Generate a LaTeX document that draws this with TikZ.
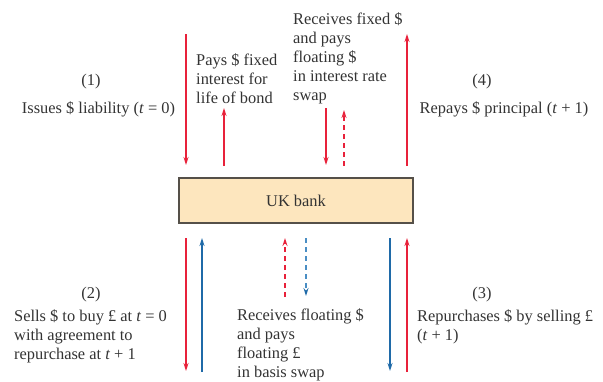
\documentclass[tikz,border=0pt]{standalone}
\usepackage{fontspec}
\setmainfont{Liberation Serif}
\usetikzlibrary{arrows.meta}
\definecolor{myred}{HTML}{E8213A}
\definecolor{myblue}{HTML}{1F6AA8}
\definecolor{mylblue}{HTML}{4A8EC4}
\definecolor{boxfill}{HTML}{FDE6BE}
\definecolor{boxline}{HTML}{555049}
\definecolor{txt}{HTML}{333333}
\begin{document}
\begin{tikzpicture}[x=1pt,y=-1pt,
  flow/.style={line width=1.2pt,-{Stealth[length=8pt,width=5pt]}},
  rflow/.style={flow,myred},
  bflow/.style={flow,myblue},
  dsh/.style={dash pattern=on 5pt off 4pt},
  lbl/.style={text=txt,font=\fontsize{16.4}{19}\selectfont,inner sep=0pt},
  lbll/.style={lbl,align=left,anchor=base west},
  lblc/.style={lbl,align=center,anchor=base}]
\useasboundingbox (0,0) rectangle (603,381);
\node[draw=boxline,line width=1.2pt,fill=boxfill,minimum width=234pt,minimum height=45pt,
  text=txt,font=\fontsize{16.4}{19}\selectfont] (bank) at (296,200.5) {UK bank};
% top arrows
\coordinate (a1s) at (186,34);  \coordinate (a1e) at (186,165);
\coordinate (a2s) at (224,166); \coordinate (a2e) at (224,108);
\coordinate (a3s) at (326,108); \coordinate (a3e) at (326,165);
\coordinate (a4s) at (344,166); \coordinate (a4e) at (344,110);
\coordinate (a5s) at (407,166); \coordinate (a5e) at (407,34);
\draw[rflow] (a1s) -- (a1e);
\draw[rflow] (a2s) -- (a2e);
\draw[rflow] (a3s) -- (a3e);
\draw[rflow,dsh] (a4s) -- (a4e);
\draw[rflow] (a5s) -- (a5e);
% bottom arrows
\coordinate (b1s) at (186,238); \coordinate (b1e) at (186,371);
\coordinate (b2s) at (202,372); \coordinate (b2e) at (202,238);
\coordinate (b3s) at (285,297); \coordinate (b3e) at (285,238);
\coordinate (b4s) at (306,238); \coordinate (b4e) at (306,296);
\coordinate (b5s) at (390,238); \coordinate (b5e) at (390,371);
\coordinate (b6s) at (407,372); \coordinate (b6e) at (407,238);
\draw[rflow] (b1s) -- (b1e);
\draw[bflow] (b2s) -- (b2e);
\draw[rflow,dsh] (b3s) -- (b3e);
\draw[bflow,mylblue,dsh,-{Stealth[length=8pt,width=5pt,color=myblue]}] (b4s) -- (b4e);
\draw[bflow] (b5s) -- (b5e);
\draw[rflow] (b6s) -- (b6e);
% labels (multi-line nodes: base = last line)
\node[lblc] (n1) at (91,85) {(1)};
\node[lblc] (t1) at (98.5,113) {Issues \$ liability (\textit{t} = 0)};
\node[lbll] (t2) at (196,103) {Pays \$ fixed\\interest for\\life of bond};
\node[lbll] (t3) at (293,100) {Receives fixed \$\\and pays\\floating \$\\in interest rate\\swap};
\node[lblc] (n4) at (482,85) {(4)};
\node[lblc] (t4) at (504,113) {Repays \$ principal (\textit{t} + 1)};
\node[lblc] (n2) at (91,298) {(2)};
\node[lbll] (t5) at (14,359) {Sells \$ to buy £ at \textit{t} = 0\\with agreement to\\repurchase at \textit{t} + 1};
\node[lbll] (t6) at (237,377) {Receives floating \$\\and pays\\floating £\\in basis swap};
\node[lblc] (n3) at (482,298) {(3)};
\node[lbll] (t7) at (417,340) {Repurchases \$ by selling £\\(\textit{t} + 1)};
\end{tikzpicture}
\end{document}
